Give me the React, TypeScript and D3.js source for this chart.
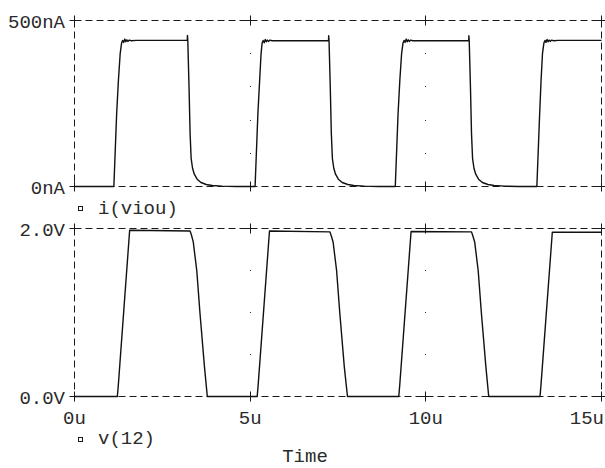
import React from "react";
import * as d3 from "d3";

// ---- data ----
const xTickValues = [0, 5, 10, 15];
const xTickLabels = ["0u", "5u", "10u", "15u"];
const currentTickValues = [0, 500];
const currentTickLabels = ["0nA", "500nA"];
const currentDotTicks = [100, 200, 300, 400];
const voltageTickValues = [0, 2];
const voltageTickLabels = ["0.0V", "2.0V"];
const voltageDotTicks = [0.5, 1.0, 1.5];
const gridTimes = [5, 10];

// i(viou) in nA
const currentTime = [
  0, 1.12, 1.16, 1.2, 1.25, 1.3, 1.34, 1.37, 1.4, 1.43, 1.46, 1.49, 1.52, 1.56, 1.62, 1.75, 3.21, 3.215, 3.225, 3.26, 3.29, 3.32, 3.36, 3.41, 3.49, 3.6, 3.75, 3.92, 4.2, 4.6,
  5.14, 5.18, 5.22, 5.27, 5.31, 5.34, 5.37, 5.4, 5.43, 5.46, 5.49, 5.52, 5.56, 5.62, 5.75, 7.23, 7.235, 7.245, 7.28, 7.31, 7.34, 7.38, 7.43, 7.51, 7.62, 7.78, 7.95, 8.25, 8.65,
  9.13, 9.17, 9.21, 9.26, 9.31, 9.35, 9.38, 9.41, 9.44, 9.47, 9.5, 9.53, 9.57, 9.63, 9.76, 11.22, 11.225, 11.235, 11.27, 11.3, 11.33, 11.37, 11.42, 11.5, 11.61, 11.77, 11.94, 12.24, 12.64,
  13.16, 13.2, 13.24, 13.28, 13.32, 13.36, 13.39, 13.42, 13.45, 13.48, 13.51, 13.54, 13.58, 13.64, 13.77, 15,
];
const currentValue = [
  0, 0, 110, 220, 320, 400, 432, 440, 434, 444, 436, 442, 437, 441, 439, 440, 440, 455, 440, 300, 160, 85, 55, 37, 22, 12, 6, 3, 1, 0,
  0, 110, 220, 320, 400, 432, 440, 433, 443, 436, 441, 437, 441, 439, 439, 439, 454, 439, 300, 160, 85, 55, 37, 22, 12, 6, 3, 1, 0,
  0, 110, 220, 320, 400, 432, 440, 434, 444, 436, 442, 437, 441, 439, 439, 439, 454, 439, 300, 160, 85, 55, 37, 22, 12, 6, 3, 1, 0,
  0, 110, 220, 320, 400, 432, 440, 434, 443, 436, 441, 437, 441, 439, 440, 440,
];

// v(12) in V
const voltageTime = [
  0, 1.22, 1.25, 1.57, 3.29, 3.33, 3.38, 3.48, 3.57, 3.7, 3.78,
  5.2, 5.23, 5.55, 7.27, 7.31, 7.36, 7.46, 7.55, 7.68, 7.77,
  9.23, 9.26, 9.58, 11.3, 11.34, 11.39, 11.49, 11.58, 11.71, 11.79,
  13.25, 13.28, 13.6, 15,
];
const voltageValue = [
  0, 0, 0.15, 1.98, 1.97, 1.92, 1.84, 1.5, 1.0, 0.35, 0,
  0, 0.15, 1.97, 1.96, 1.91, 1.84, 1.5, 1.0, 0.35, 0,
  0, 0.15, 1.965, 1.96, 1.91, 1.84, 1.5, 1.0, 0.35, 0,
  0, 0.15, 1.955, 1.955,
];

const FONT = "'Liberation Mono', 'DejaVu Sans Mono', monospace";
const INK = "#1a1a1a";
const TEXT = "#2a2a2a";

function Cross({ x, y }: { x: number; y: number }) {
  return (
    <g stroke={INK} strokeWidth={1}>
      <line x1={x - 5} x2={x + 5} y1={y} y2={y} />
      <line x1={x} x2={x} y1={y - 5} y2={y + 5} />
    </g>
  );
}

function Panel({
  yScale,
  x,
  dots,
}: {
  yScale: d3.ScaleLinear<number, number>;
  x: d3.ScaleLinear<number, number>;
  dots: number[];
}) {
  const [x0, x1] = x.range();
  const [yb, yt] = yScale.range();
  const dash = "7,4";
  const crossXs = [x0, ...gridTimes.map((t) => Math.round(x(t) - 0.5) + 0.5), x1];
  return (
    <g>
      <g stroke={INK} strokeWidth={1} fill="none" strokeDasharray={dash}>
        <line x1={x0} x2={x1} y1={yt} y2={yt} />
        <line x1={x0} x2={x1} y1={yb} y2={yb} />
        <line x1={x0} x2={x0} y1={yt} y2={yb} />
        <line x1={x1} x2={x1} y1={yt} y2={yb} />
      </g>
      {crossXs.map((cx, i) => (
        <g key={i}>
          <Cross x={cx} y={yt} />
          <Cross x={cx} y={yb} />
        </g>
      ))}
      {gridTimes.map((t) =>
        dots.map((v) => (
          <rect
            key={`${t}-${v}`}
            x={Math.round(x(t) - 0.5)}
            y={Math.round(yScale(v) - 0.5)}
            width={1}
            height={1}
            fill="#333"
          />
        ))
      )}
    </g>
  );
}

export default function App() {
  const x = d3.scaleLinear().domain([0, 15]).range([74.5, 601.5]);
  const yI = d3.scaleLinear().domain([0, 500]).range([186.5, 20.5]);
  const yV = d3.scaleLinear().domain([0, 2]).range([396.5, 228.5]);

  const iLine = d3
    .line<number>()
    .x((_, k) => x(currentTime[k]))
    .y((v) => yI(v));
  const vLine = d3
    .line<number>()
    .x((_, k) => x(voltageTime[k]))
    .y((v) => yV(v));

  const fs = 19;
  return (
    <svg
      width={605}
      height={468}
      style={{ position: "absolute", left: 0, top: 0, background: "#fff" }}
      fontFamily={FONT}
      fontSize={fs}
      fill={TEXT}
    >
      <rect x={0} y={0} width={605} height={468} fill="#fff" />
      <Panel yScale={yI} x={x} dots={currentDotTicks} />
      <Panel yScale={yV} x={x} dots={voltageDotTicks} />

      <path d={iLine(currentValue) || ""} fill="none" stroke="#111" strokeWidth={1.4} strokeLinejoin="round" />
      <path d={vLine(voltageValue) || ""} fill="none" stroke="#111" strokeWidth={1.4} strokeLinejoin="round" />

      {currentTickValues.map((v, i) => (
        <text key={v} x={65} y={yI(v) + 7} textAnchor="end">
          {currentTickLabels[i]}
        </text>
      ))}
      {voltageTickValues.map((v, i) => (
        <text key={v} x={65} y={yV(v) + 7} textAnchor="end">
          {voltageTickLabels[i]}
        </text>
      ))}
      {xTickValues.map((t, i) => (
        <text
          key={t}
          x={i === xTickValues.length - 1 ? 604 : x(t)}
          y={424}
          textAnchor={i === xTickValues.length - 1 ? "end" : "middle"}
        >
          {xTickLabels[i]}
        </text>
      ))}

      <rect x={78.5} y={206.5} width={4} height={4} fill="none" stroke={INK} strokeWidth={1} />
      <text x={98} y={214}>i(viou)</text>
      <rect x={78.5} y={437.5} width={4} height={4} fill="none" stroke={INK} strokeWidth={1} />
      <text x={98} y={444}>v(12)</text>

      <text x={305} y={462} textAnchor="middle">Time</text>
    </svg>
  );
}
